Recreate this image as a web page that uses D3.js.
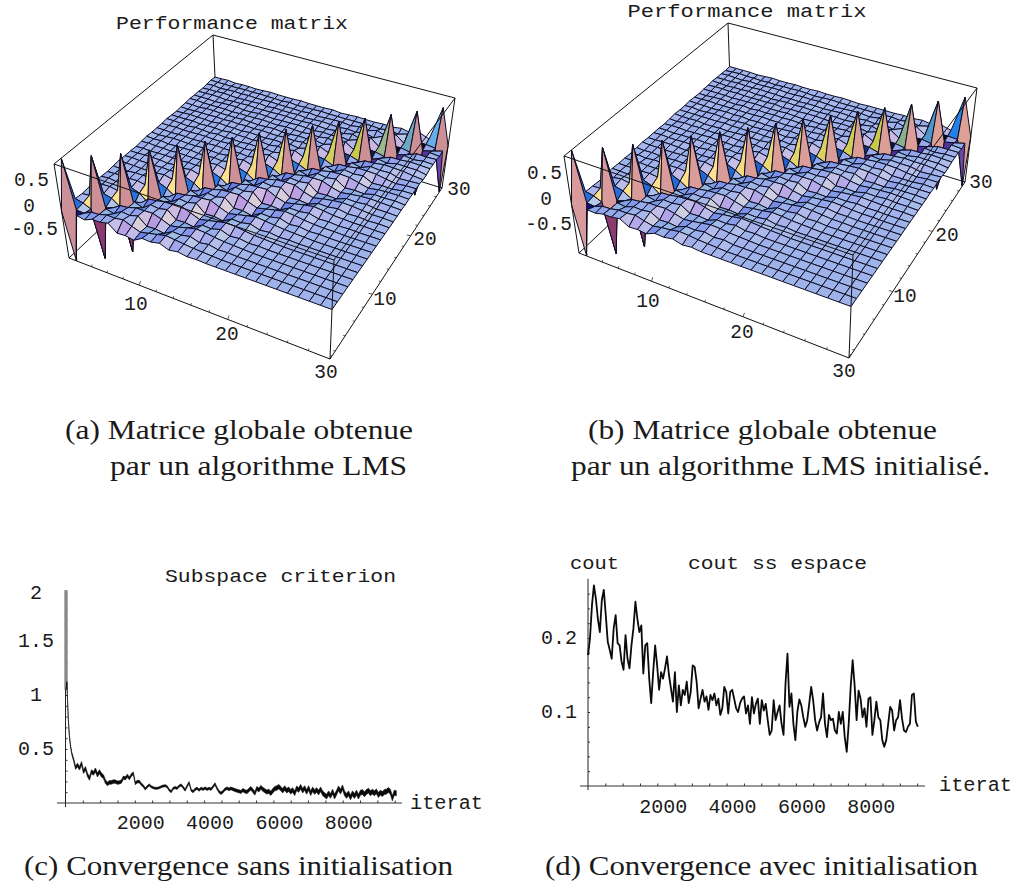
<!DOCTYPE html>
<html><head><meta charset="utf-8"><script src="https://cdn.jsdelivr.net/npm/d3@7"></script>
<style>html,body{margin:0;padding:0;background:#fff}svg{display:block}</style></head>
<body><svg id="c" width="1015" height="883"></svg>
<script>
// Performance matrices (values x100); the spikes and the diagonal are read separately below
const matrixA=[
[2,95,1,-1,0,1,0,-1,0,1,0,0,-1,0,1,0,0,0,1,0,-1,0,0,1,0,0,-1,0,1,0],
[-95,3,5,1,-1,0,2,0,-1,0,1,0,0,1,0,-1,0,0,1,0,0,-1,0,1,0,0,0,1,0,0],
[2,3,3,94,-2,1,0,1,-1,0,0,1,-1,0,1,0,-1,1,0,0,1,0,-1,0,0,1,0,-1,0,1],
[-1,2,-105,3,5,-2,2,0,1,-1,0,1,0,0,-1,1,0,0,-1,1,0,0,1,0,-1,0,1,0,0,-1],
[6,3,2,2,2,95,-2,1,1,-1,0,1,0,-1,0,1,0,0,1,-1,0,0,1,0,0,-1,0,1,0,0],
[6,8,-2,2,-105,3,5,-2,1,0,1,-1,0,1,0,0,-1,1,0,0,-1,1,0,0,1,0,-1,0,1,0],
[10,7,8,4,3,2,2,94,-3,2,0,1,-1,0,1,0,0,1,-1,0,1,0,0,-1,1,0,0,1,0,-1],
[-4,10,6,9,-3,3,-95,3,6,-2,2,-1,1,0,-1,1,0,0,1,-1,0,1,0,0,-1,1,0,0,1,0],
[-3,3,11,9,9,5,2,3,2,95,-3,2,0,1,-1,0,1,0,-1,1,0,0,1,0,-1,0,1,0,0,1],
[-6,-3,-4,10,7,9,-3,3,-94,3,6,-3,2,0,1,-1,0,1,0,0,-1,1,0,0,1,0,-1,1,0,0],
[4,1,-3,4,11,10,9,5,3,3,2,95,-3,2,-1,1,0,1,-1,0,1,0,-1,1,0,0,1,0,-1,0],
[3,5,-6,-3,-4,11,7,9,-3,3,-95,4,7,-3,3,-1,1,0,1,-1,0,1,0,0,-1,1,0,0,1,0],
[7,9,4,0,-3,4,12,10,9,5,3,3,2,96,-4,2,-1,2,0,1,-1,0,1,-1,0,1,0,0,-1,1],
[0,7,3,5,-6,-3,-4,12,7,10,-3,3,-95,4,7,-3,3,0,1,-1,1,0,-1,1,0,0,1,-1,0,0],
[3,5,7,9,4,1,-3,4,12,11,10,5,3,3,3,95,-4,3,-1,2,0,1,-1,0,1,0,-1,1,0,0],
[0,3,1,8,3,5,-6,-3,-4,12,8,10,-3,3,-96,4,8,-4,3,-1,2,0,1,-1,0,1,0,-1,1,0],
[1,2,4,5,8,9,4,1,-3,4,12,11,10,5,3,3,3,94,-5,4,-1,2,0,1,-1,0,1,0,0,1],
[0,1,0,3,1,8,3,5,-7,-3,-5,12,8,10,-3,3,-95,5,8,-4,4,-1,2,0,1,-1,0,1,0,-1],
[0,0,1,2,3,5,7,9,4,1,-4,3,11,11,9,5,3,3,3,95,-5,4,-1,3,0,1,-1,1,0,0],
[0,0,0,1,0,3,1,7,3,5,-6,-3,-4,11,7,9,-2,3,-95,5,9,-4,5,-1,3,0,1,-1,0,1],
[0,0,0,0,1,2,3,5,7,9,4,1,-3,3,10,10,9,4,3,3,3,94,-6,6,0,4,-1,2,0,0],
[0,0,0,0,0,1,0,3,1,7,3,5,-5,-3,-4,10,6,8,-2,3,-95,5,9,-5,7,-2,4,-1,1,0],
[0,0,0,0,0,0,1,2,3,4,6,8,3,1,-3,3,9,9,8,4,2,3,3,95,-7,8,-2,5,-1,1],
[0,0,0,0,0,0,0,1,0,2,1,6,2,4,-4,-2,-3,8,5,7,-2,2,-95,5,10,-6,7,-2,3,0],
[0,0,0,0,0,0,0,0,1,1,2,3,5,6,3,1,-2,3,7,7,6,3,2,3,3,96,-8,8,-1,3],
[0,0,0,0,0,0,0,0,0,1,0,2,1,5,2,3,-3,-2,-2,6,4,6,-1,2,-95,5,11,-6,5,-1],
[0,0,0,0,0,0,0,0,0,0,1,1,2,3,4,4,2,1,-1,2,5,5,4,2,2,2,3,94,-5,4],
[0,0,0,0,0,0,0,0,0,0,0,1,0,1,1,3,1,2,-2,-1,-1,4,3,4,-1,2,-95,5,8,-3],
[0,0,0,0,0,0,0,0,0,0,0,0,1,1,1,2,2,2,1,1,0,1,3,3,2,1,1,1,2,95],
[0,0,0,0,0,0,0,0,0,0,0,0,0,0,0,1,0,1,1,1,1,-1,-1,2,1,2,-1,1,-95,3]];
const matrixB=[
[2,95,1,0,-1,0,1,0,0,-1,0,1,0,0,0,-1,0,1,0,0,1,0,-1,0,0,1,0,0,-1,0],
[-95,2,4,1,0,-1,1,0,0,1,-1,0,0,1,0,0,-1,0,0,1,0,0,-1,0,1,0,0,1,0,0],
[1,2,2,95,-1,2,0,0,1,-1,0,0,1,0,-1,0,1,0,0,-1,0,1,0,0,1,-1,0,0,1,0],
[0,1,-105,2,4,-1,1,0,0,1,-1,0,1,0,0,-1,0,1,0,0,-1,0,1,0,0,0,1,-1,0,0],
[4,2,1,1,1,95,-1,1,0,1,-1,0,0,1,0,0,1,-1,0,1,0,0,0,-1,1,0,0,1,0,-1],
[4,5,-1,1,-105,2,4,-1,1,0,0,1,-1,0,1,0,0,-1,0,0,1,0,-1,0,0,1,0,0,-1,0],
[7,5,5,3,2,1,1,95,-2,1,0,1,0,-1,0,1,0,0,1,-1,0,0,1,0,0,-1,1,0,0,1],
[-3,7,4,6,-2,2,-95,2,5,-1,2,0,-1,1,0,0,1,-1,0,0,1,0,-1,1,0,0,0,1,-1,0],
[-2,2,7,6,6,3,1,2,1,95,-2,2,0,1,-1,0,1,0,0,1,-1,0,1,0,0,-1,0,1,0,0],
[-4,-2,-3,7,5,6,-2,2,-95,2,5,-2,2,0,1,-1,0,1,0,-1,0,1,0,0,1,0,-1,0,0,1],
[3,1,-2,3,8,7,6,3,2,2,1,95,-2,2,-1,1,0,0,1,0,-1,0,1,0,-1,1,0,0,1,0],
[2,3,-4,-2,-3,8,5,6,-2,2,-95,3,6,-2,2,-1,1,0,0,1,-1,0,0,1,0,0,-1,1,0,0],
[5,6,3,0,-2,3,8,7,6,3,2,2,2,95,-3,2,-1,2,0,1,0,-1,1,0,0,1,0,0,-1,1],
[0,5,2,3,-4,-2,-3,8,5,7,-2,2,-95,3,6,-2,2,0,1,-1,1,0,0,-1,1,0,0,1,0,0],
[2,3,5,6,3,1,-2,3,8,7,7,3,2,2,2,95,-3,2,-1,2,0,1,-1,0,1,0,-1,0,1,0],
[0,2,1,5,2,3,-4,-2,-3,8,5,7,-2,2,-95,3,7,-3,3,-1,1,0,1,-1,0,1,0,-1,0,1],
[0,1,3,3,5,6,3,1,-2,3,8,7,7,3,2,2,2,95,-4,3,-1,2,0,1,-1,0,1,0,0,0],
[0,0,0,2,1,5,2,3,-5,-2,-3,8,5,7,-2,2,-95,4,7,-3,3,-1,2,0,1,-1,0,1,0,-1],
[0,0,0,1,2,3,5,6,3,1,-3,2,7,7,6,3,2,2,2,95,-4,3,-1,2,0,1,-1,1,0,0],
[0,0,0,0,0,2,1,5,2,3,-4,-2,-3,7,5,6,-1,2,-95,4,7,-3,4,-1,3,0,1,-1,0,0],
[0,0,0,0,0,1,2,3,5,6,3,1,-2,2,7,7,6,3,2,2,2,95,-5,5,0,3,-1,2,0,0],
[0,0,0,0,0,0,0,2,1,5,2,3,-3,-2,-3,7,4,5,-1,2,-95,4,7,-4,6,-2,3,-1,1,0],
[0,0,0,0,0,0,0,1,2,3,4,5,2,1,-2,2,6,6,5,3,1,2,2,95,-6,7,-2,4,-1,1],
[0,0,0,0,0,0,0,0,0,1,1,4,1,3,-3,-1,-2,5,3,5,-1,1,-95,4,8,-5,6,-2,3,0],
[0,0,0,0,0,0,0,0,0,1,1,2,3,4,2,1,-1,2,5,5,4,2,1,2,2,95,-6,7,-1,2],
[0,0,0,0,0,0,0,0,0,0,0,1,1,3,1,2,-2,-1,-1,4,3,4,-1,1,-95,4,9,-5,4,-1],
[0,0,0,0,0,0,0,0,0,0,0,1,1,2,3,3,1,1,-1,1,3,3,3,1,1,1,2,95,-4,3],
[0,0,0,0,0,0,0,0,0,0,0,0,0,1,1,2,1,1,-1,-1,-1,3,2,3,-1,1,-95,4,6,-2],
[0,0,0,0,0,0,0,0,0,0,0,0,0,1,1,1,1,1,1,1,0,1,2,2,1,1,1,1,2,95],
[0,0,0,0,0,0,0,0,0,0,0,0,0,0,0,0,0,1,0,1,1,-1,-1,1,1,1,-1,1,-95,2]];
const spikesA=[95,88,80,76,74,72,70,70,68,68,68,68,68,68,70];
const spikesB=[95,88,82,78,76,74,72,72,70,70,70,70,70,70,72];
const diagA=[0,-5,-10,-14,-18,-20,-22,-22,-22,-22,-22,-22,-22,-22,-22,-20,-20,-20,-18,-18,-16,-16,-14,-14,-12,-12,-10,-10,-8,-6];
const diagB=[0,-4,-9,-13,-16,-18,-20,-20,-20,-20,-20,-20,-20,-20,-20,-18,-18,-18,-16,-16,-14,-14,-12,-12,-10,-10,-8,-8,-6,-4];
const nearA=[-3,-6,-8,-10,-10,-10,-10,-10,-10,-8,-8,-8,-6,-6,-5];
const nearB=[-2,-5,-7,-9,-9,-9,-9,-9,-9,-7,-7,-7,-5,-5,-4];
const axisIJ=[10,20,30];
const zTickLabels=["0.5","0","-0.5"];
// (c) Subspace criterion
const bandIterC=[15,15];
const bandCostC=[1.97,1.05];
const headIterC=[40,60,80,110,140,180,235];
const headCostC=[1.12,.94,.78,.63,.54,.46,.40];
const tailStepC=57.5, tailStartC=290;
const tailCostC=[.327,.352,.321,.367,.29,.321,.259,.228,.29,.275,.306,.259,.29,.259,.244,.198,.176,.191,.191,.198,.198,.188,.191,.198,.235,.228,.253,.228,.259,.275,.182,.198,.198,.173,.157,.13,.151,.167,.151,.142,.136,.136,.142,.151,.157,.16,.151,.12,.105,.136,.142,
.136,.157,.167,.145,.12,.157,.188,.12,.105,.127,.136,.12,.136,.127,.139,.127,.136,.127,.151,.176,.136,.105,.09,.105,.127,.136,.127,.136,.127,.12,.114,.108,.102,.12,.108,.102,.12,.136,.114,.09,.136,.12,.145,.127,.114,.102,.108,.09,.114,.133,.139,.151,.133,.114,.139,.114,.127,.105,.12,.09,.136,.12,.151,.114,.139,.102,.139,.09,.127,.102,.12,.096,.127,.09,.074,.059,.09,.065,.105,.059,.096,.136,.105,.145,.09,.065,.09,.052,.09,.065,.096,.059,.096,.102,.08,.102,.114,.09,.105,.09,.108,.074,.096,.083,.102,.105,.12,.105,.043,.096,.09];
const spreadIterC=[0,300,1000,2500,4500,6000,9500];
const spreadPxC=[1,3.4,4,2,2.4,4.4,5];
// (d) cout ss espace
const stepD=57;
const costD=[.177,.199,.244,.271,.253,.226,.208,.251,.265,.231,.195,.184,.172,.213,.231,.193,.190,.168,.157,.204,.172,.159,.190,.213,.249,.226,.208,.217,.152,.190,.193,.145,.112,.154,.190,.163,.130,.154,.145,.159,.175,.150,.132,.114,.154,.100,.136,.109,.130,.123,.141,.112,.127,.163,.161,.141,.105,.118,.130,.114,.121,.103,.123,.116,.125,.109,.118,.096,.105,.134,.127,.098,.127,.130,.118,.105,.100,.112,.118,.121,.098,
.109,.084,.120,.098,.111,.118,.084,.116,.102,.111,.089,.069,.075,.116,.089,.100,.109,.084,.069,.138,.179,.107,.125,.084,.062,.100,.117,.109,.093,.080,.089,.111,.134,.116,.089,.075,.086,.093,.125,.084,.066,.096,.089,.091,.075,.071,.100,.084,.100,.066,.046,.084,.134,.170,.136,.089,.129,.118,.093,.105,.080,.118,.120,.069,.089,.114,.093,.089,.062,.053,.062,.084,.107,.102,.075,.089,.093,.116,.091,.075,.073,.080,.084,.123,.125,.087,.080];
const xMajor=[2000,4000,6000,8000];
const yTicksC=[.5,1,1.5,2];
const yTicksD=[.1,.2];

const svg=d3.select("#c");
const MONO="'Liberation Mono','DejaVu Sans Mono',monospace";
const SERIF="'Liberation Serif','DejaVu Serif',serif";
function txt(s,x,y,fs,w,anchor,fam){
  const t=svg.append("text").attr("x",x).attr("y",y).attr("font-family",fam||MONO).attr("font-size",fs)
   .attr("fill","#1a1a1a").attr("text-anchor",anchor||"middle").attr("dominant-baseline","central").text(s);
  if(w) t.attr("textLength",w).attr("lengthAdjust","spacingAndGlyphs");
  return t;
}
function homography(q){ // unit square -> quad
  const [x0,y0]=q[0],[x1,y1]=q[1],[x2,y2]=q[2],[x3,y3]=q[3];
  const dx1=x1-x2,dx2=x3-x2,sx=x0-x1+x2-x3,dy1=y1-y2,dy2=y3-y2,sy=y0-y1+y2-y3;
  const den=dx1*dy2-dx2*dy1,g=(sx*dy2-dx2*sy)/den,h=(dx1*sy-sx*dy1)/den;
  const a=x1-x0+g*x1,b=x3-x0+h*x3,c=x0,d=y1-y0+g*y1,e=y3-y0+h*y3,f=y0;
  return (u,v)=>{const w=g*u+h*v+1;return [(a*u+b*v+c)/w,(d*u+e*v+f)/w];};
}
const rot=[[.92,.39,.03],[-.32,.54,.78],[.288,-.727,.622]];
const Zk=5;
const lights=[[.707,0,.707],[.577,.577,.577],[0,.707,.707]];
function shade(n){
  const L=Math.hypot(n[0],n[1],n[2])||1;
  const m=n.map(v=>v/L);
  const vn=rot.map(r=>r[0]*m[0]+r[1]*m[1]+r[2]*m[2]);
  const d=lights.map(l=>Math.max(0,l[0]*vn[0]+l[1]*vn[1]+l[2]*vn[2]));
  const cl=(v)=>Math.max(0,Math.min(255,v));
  return d3.rgb(cl(68+170*Math.pow(d[0],.8)),cl(180+(d[1]-.83)*230),cl(235+(d[2]-.99)*140)).formatHex();
}
const warp=1.1;
const stops=(dom,rng)=>d3.scaleLinear().domain(dom).range(rng).interpolate(d3.interpolateRgb).clamp(true);
function surface(p){
  const g=svg.append("g");
  const ui=d3.scaleLinear().domain([1,30]).range([0,1]);
  const uj=d3.scaleLinear().domain([1,30]).range([0,1]);
  const uz=d3.scaleLinear().domain([-.96,.96]).range([0,1]);
  const fi=u=>u/(warp-(warp-1)*u), fj=v=>v*warp/(1+(warp-1)*v);
  const F=homography(p.floor),T=homography(p.top);
  const proj=(i,j,z)=>{const u=fi(ui(i)),v=fj(uj(j));const a=F(u,v),b=T(u,v),t=uz(z);return [a[0]+(b[0]-a[0])*t,a[1]+(b[1]-a[1])*t];};
  const line=(a,b)=>g.append("line").attr("x1",a[0]).attr("y1",a[1]).attr("x2",b[0]).attr("y2",b[1]).attr("stroke","#111").attr("stroke-width",1);
  const [fA,fB,fC,fD]=p.floor,[tA,tB,tC,tD]=p.top;
  [[fA,fD],[fC,fD],[fD,tD],[tA,tD],[tD,tC]].forEach(e=>line(e[0],e[1]));
  const Z=(i,j)=>{
    if(j===i+1&&i%2===1) return p.spikes[(i-1)/2]/100;
    if(i===j) return p.diag[i-1]/100;
    if((j===i+1&&i%2===0)||(j===i-1&&i%2===1)) return p.near[Math.floor((i-1)/2)]/100;
    const r=p.m[i-1]||[];const v=r[j-1];return (v===undefined?0:v)/100;};
  const cells=[];
  for(let i=1;i<30;i++)for(let j=1;j<30;j++){
    const c=[[i,j],[i+1,j],[i+1,j+1],[i,j+1]].map(q=>[q[0],q[1],Z(q[0],q[1])]);
    const zs=c.map(q=>q[2]);
    const d1=[1,1,(zs[2]-zs[0])*Zk],d2=[-1,1,(zs[3]-zs[1])*Zk];
    const n=[d1[1]*d2[2]-d1[2]*d2[1],d1[2]*d2[0]-d1[0]*d2[2],d1[0]*d2[1]-d1[1]*d2[0]];
    const depth=rot[2][0]*i+rot[2][1]*j;
    const pk=zs.map(v=>v>.5), tr=zs.map(v=>v<-.5);
    let fill;
    if(pk[3]&&tr[1]) fill=p.col.pink(i);
    else if(tr[0]) fill=p.col.dark(i);
    else if(tr[2]) fill=p.col.mid(i);
    else if(tr[3]) fill=p.col.maroon(i);
    else if(pk[2]) fill=p.col.yellow(i);
    else if(pk[1]) fill=p.col.sky(i);
    else if(pk[0]) fill=p.col.under(i);
    else fill=shade(n);
    cells.push({pts:c.map(q=>proj(q[0],q[1],q[2])),fill,depth});
  }
  cells.sort((a,b)=>d3.ascending(a.depth,b.depth));
  g.selectAll("polygon").data(cells).join("polygon")
    .attr("points",d=>d.pts.map(q=>q[0].toFixed(2)+","+q[1].toFixed(2)).join(" "))
    .attr("fill",d=>d.fill).attr("stroke","#0c0c22").attr("stroke-width",1).attr("stroke-linejoin","round");
  [[tA,tB],[tB,tC],[tA,fA],[tB,fB],[tC,fC],[fA,fB],[fB,fC]].forEach(e=>line(e[0],e[1]));
  d3.range(2,31,2).forEach(k=>{
    const a=proj(k,1,-.96),b=proj(30,k,-.96),len=k%10==0?4:2;
    g.append("line").attr("x1",a[0]).attr("y1",a[1]).attr("x2",a[0]+len*.35).attr("y2",a[1]-len).attr("stroke","#111").attr("stroke-width",.7);
    g.append("line").attr("x1",b[0]).attr("y1",b[1]).attr("x2",b[0]-len).attr("y2",b[1]-len*.2).attr("stroke","#111").attr("stroke-width",.7);
  });
  axisIJ.forEach((v,k)=>{ txt(String(v),p.iLab[k][0],p.iLab[k][1],19.5); txt(String(v),p.jLab[k][0],p.jLab[k][1],19.5); });
  zTickLabels.forEach((s,k)=>txt(s,p.zLab[k][0],p.zLab[k][1],19.5,null,"end"));
  txt("Performance matrix",p.title[0],p.title[1],19,p.title[2]);
}
const colA={pink:stops([1,30],["#cc9096","#cc9096"]),dark:stops([1,8,30],["#1e0f82","#3a1f8c","#55389e"]),mid:stops([1,30],["#7050b0","#6a48aa"]),
  maroon:stops([1,30],["#8a3a6e","#8a3a6e"]),yellow:stops([1,12,22,27,30],["#ffe08c","#ffe08c","#c8c850","#56a0e0","#84ccff"]),
  sky:stops([1,30],["#5ea8f0","#84ccff"]),under:stops([1,18,24,30],["#2a6fd8","#2a80e8","#0a0a18","#050510"])};
const colB={pink:stops([1,30],["#d89a9a","#dca096"]),dark:stops([1,8,30],["#14087a","#2a1480","#55389e"]),mid:stops([1,30],["#7050b0","#6a48aa"]),
  maroon:stops([1,30],["#8a3a6e","#8a3a6e"]),yellow:stops([1,10,22,27,30],["#ffe08c","#ffe08c","#c8c84a","#2f8aea","#0a6ee0"]),
  sky:stops([1,30],["#1a7ae6","#0a6ee0"]),under:stops([1,18,24,30],["#2a6fd8","#1a60c8","#0a0a18","#050510"])};
surface({m:matrixA,spikes:spikesA,diag:diagA,near:nearA,col:colA,
  floor:[[69,258],[330,359],[442,188],[217,119]],
  top:[[54,164],[334,260],[455,98],[213,35]],
  iLab:[[136,305],[227,335],[326,373]],jLab:[[385,300],[425,240],[459,190]],
  zLab:[[49,181],[35,207],[58,230]],title:[232,24,232]});
surface({m:matrixB,spikes:spikesB,diag:diagB,near:nearB,col:colB,
  floor:[[579,253],[849,358],[965,182],[731,110]],
  top:[[564,156],[853,255],[977,88],[728,23]],
  iLab:[[648,302],[742,333],[844,372]],jLab:[[905,297],[947,236],[981,183]],
  zLab:[[562,174],[552,200],[572,225]],title:[747,12,239]});

function axes(o){
  const x=d3.scaleLinear().domain([0,9500]).range([o.x0,o.x0+9500*.03465]);
  const y=d3.scaleLinear().domain([0,o.ymax]).range([o.y0,o.y0-o.ymax*o.ky]);
  const gx=svg.append("g").attr("transform",`translate(0,${o.y0})`)
    .call(d3.axisTop(x).tickValues(d3.range(500,9501,500)).tickSize(2.5).tickFormat(""));
  gx.select(".domain").remove();
  gx.selectAll("line").attr("stroke","#333");
  svg.append("line").attr("x1",o.xa[0]).attr("x2",o.xa[1]).attr("y1",o.y0).attr("y2",o.y0).attr("stroke","#333").attr("stroke-width",1);
  const gy=svg.append("g").attr("transform",`translate(${o.x0},0)`)
    .call(d3.axisRight(y).tickValues(d3.range(o.ystep,o.ymax,o.ystep)).tickSize(2).tickFormat(""));
  gy.select(".domain").remove();
  gy.selectAll("line").attr("stroke","#333");
  svg.append("line").attr("x1",o.x0).attr("x2",o.x0).attr("y1",o.y0+4).attr("y2",y(o.ymax)).attr("stroke","#222").attr("stroke-width",1);
  xMajor.forEach(v=>txt(String(v),x(v)+6,o.xlabY,20));
  return {x,y};
}
// (c)
{
  const {x,y}=axes({x0:65.5,y0:803,ymax:1.97,ky:108,ystep:.1,xa:[57,402],xlabY:823});
  svg.append("path").attr("d",d3.line().x(d=>x(d[0])).y(d=>y(d[1]))(bandIterC.map((v,i)=>[v,bandCostC[i]])))
    .attr("stroke","#8a8a8a").attr("stroke-width",3.4).attr("fill","none");
  const pts=headIterC.map((v,i)=>[v,headCostC[i]]).concat(tailCostC.map((v,i)=>[tailStartC+i*tailStepC,v]));
  pts.unshift([15,1.05]);
  const sp=d3.scaleLinear().domain(spreadIterC).range(spreadPxC);
  svg.append("path").attr("d",d3.area().x(d=>x(d[0])).y0(d=>y(d[1])+sp(d[0])/2).y1(d=>y(d[1])-sp(d[0])/2)(pts))
    .attr("fill","#0a0a0a").attr("stroke","#0a0a0a").attr("stroke-width",.6);
  yTicksC.forEach((v,i)=>txt(v==1||v==2?String(v):String(v<1?"0.5":"1.5"),36,[749,695,641,593][i],20));
  txt("Subspace criterion",280.5,577,19,231);
  txt("iterat",446.5,803,20,73);
}
// (d)
{
  const {x,y}=axes({x0:588,y0:786,ymax:.28,ky:740,ystep:.02,xa:[580,925],xlabY:807});
  const pts=costD.map((v,i)=>[i*stepD,v]);
  svg.append("path").attr("d",d3.line().x(d=>x(d[0])).y(d=>y(d[1]))(pts))
    .attr("stroke","#0a0a0a").attr("stroke-width",1.8).attr("fill","none").attr("stroke-linejoin","round");
  yTicksD.forEach((v,i)=>txt(String(v),559,[712,638][i],20));
  txt("cout ss espace",777.5,564,19,179);
  txt("cout",594.5,564,19,49);
  txt("iterat",975.5,785,20,73);
}
// captions
const captions=[["(a) Matrice globale obtenue",65,430,348],["par un algorithme LMS",110,466,297],
 ["(b) Matrice globale obtenue",588,430,349],["par un algorithme LMS initialisé.",571,466,419],
 ["(c) Convergence sans initialisation",24,866,429],["(d) Convergence avec initialisation",545,866,433]];
captions.forEach(c=>txt(c[0],c[1],c[2],27,c[3],"start",SERIF));
</script></body></html>
